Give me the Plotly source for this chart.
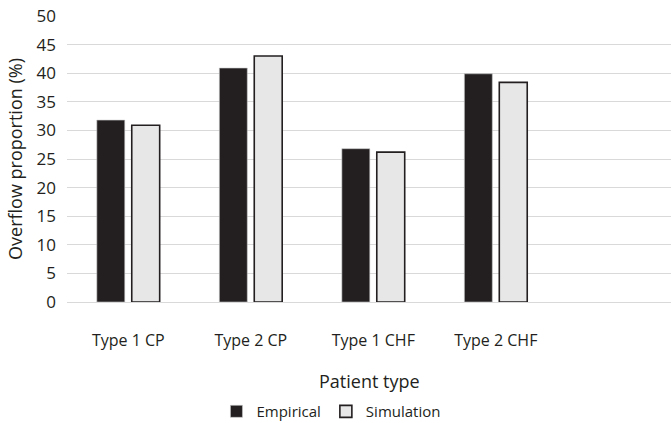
import plotly.graph_objects as go

# Overflow proportion by patient type: empirical vs simulated
categories = ["Type 1 CP", "Type 2 CP", "Type 1 CHF", "Type 2 CHF"]
empirical = [31.8, 40.9, 26.8, 39.9]
simulation = [30.9, 43.0, 26.2, 38.4]
y_ticks = [0, 5, 10, 15, 20, 25, 30, 35, 40, 45, 50]

FONT = "Open Sans"
TEXT = "#231f20"
x_pos = list(range(len(categories)))

fig = go.Figure()
fig.add_trace(go.Bar(
    x=x_pos, y=empirical, name="Empirical",
    marker=dict(color="#231f20", line=dict(color="#c8c8c8", width=0.6)),
))
fig.add_trace(go.Bar(
    x=x_pos, y=simulation, name="Simulation",
    marker=dict(color="#e7e7e7", line=dict(color="#231f20", width=1.6)),
))

W, H = 671, 423
L, T, B = 67, 16, 121

fig.update_layout(
    width=W, height=H,
    margin=dict(l=L, r=0, t=T, b=B, pad=0, autoexpand=False),
    paper_bgcolor="white", plot_bgcolor="white",
    barmode="group", bargap=0.43, bargroupgap=0.2,
    font=dict(family=FONT, color=TEXT),
    showlegend=True,
    legend=dict(
        orientation="h", xref="paper", x=0.437, xanchor="center",
        yref="container", y=0.027, yanchor="middle",
        font=dict(family=FONT, size=15, color=TEXT),
        itemwidth=30, tracegroupgap=0, traceorder="normal",
    ),
    xaxis=dict(
        range=[-0.5, 4.43], tickmode="array", tickvals=x_pos, ticktext=categories,
        showgrid=False, zeroline=False, showline=False, ticks="",
        tickfont=dict(family=FONT, size=16, color=TEXT),
        ticklabelstandoff=27, automargin=False,
    ),
    yaxis=dict(
        range=[0, 50], tickmode="array", tickvals=y_ticks,
        showgrid=True, gridcolor="#d9d9d9", gridwidth=1.2,
        zeroline=True, zerolinecolor="#d9d9d9", zerolinewidth=1.2,
        showline=False, ticks="", ticklabelstandoff=10, automargin=False,
        tickfont=dict(family=FONT, size=17, color=TEXT),
        title=dict(text="Overflow proportion (%)", standoff=9,
                   font=dict(family=FONT, size=18, color=TEXT)),
    ),
    annotations=[dict(
        text="Patient type", xref="paper", yref="paper",
        x=0.5, y=-0.277, xanchor="center", yanchor="middle", showarrow=False,
        font=dict(family=FONT, size=18, color=TEXT),
    )],
)

fig.write_html("out.html")
